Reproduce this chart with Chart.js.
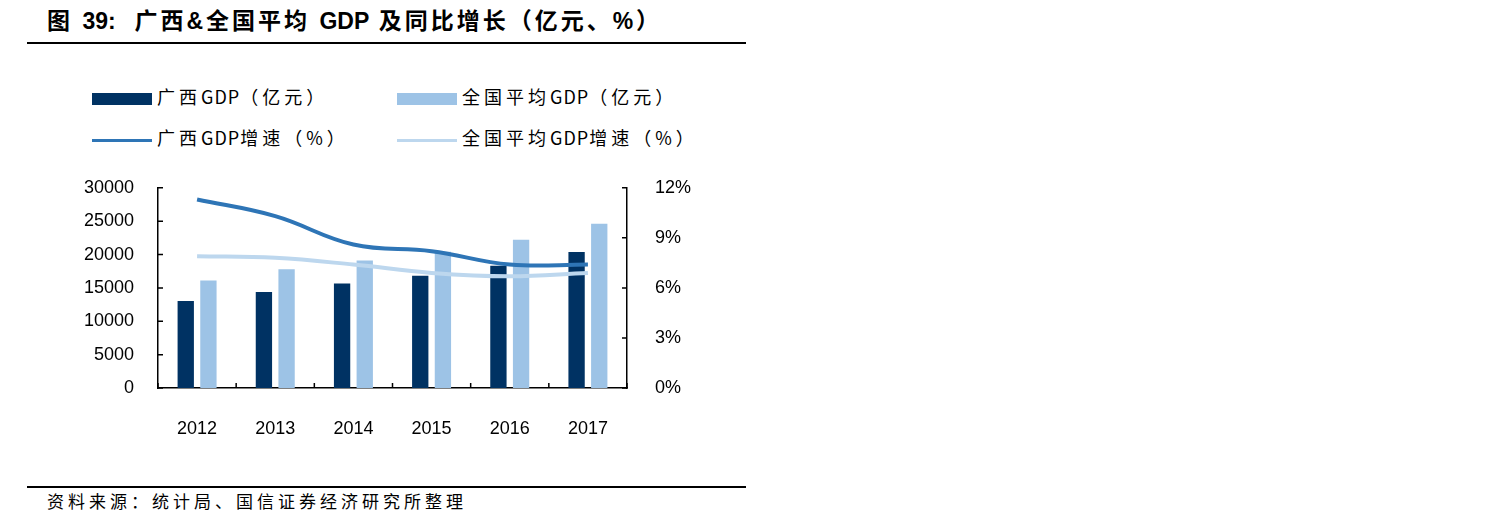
<!DOCTYPE html>
<html>
<head>
<meta charset="utf-8">
<script src="https://cdn.jsdelivr.net/npm/chart.js@4.4.0/dist/chart.umd.min.js"></script>
<style>
  body { margin: 0; background: #fff; width: 1508px; height: 511px; overflow: hidden; position: relative; }
  .title { position: absolute; left: 47px; top: 2px; font: bold 23px "Liberation Sans", "Noto Sans CJK SC", sans-serif; letter-spacing: 3px; color: #000; white-space: nowrap; }
  .title .lat { letter-spacing: 0; }
  .rule { position: absolute; left: 27px; width: 719px; height: 2px; background: #000; }
  .source { position: absolute; left: 47px; top: 488px; font: 17px "Noto Sans CJK SC", sans-serif; letter-spacing: 4px; color: #000; white-space: nowrap; }
  .legend { position: absolute; font: 18px "Noto Sans CJK SC", sans-serif; color: #000; letter-spacing: 4px; white-space: nowrap; }
  .legend .lat { letter-spacing: 1px; }
  .legend span.sw { display: inline-block; width: 60px; vertical-align: middle; margin-right: 5px; }
  #wrap { position: absolute; left: 0; top: 157px; width: 745px; height: 294px; }
</style>
</head>
<body>
<div class="title">图 <span class="lat">39:</span>&nbsp; 广西&amp;全国平均 <span class="lat">GDP</span> 及同比增长（亿元、%）</div>
<div class="rule" style="top:42px"></div>
<div id="legend"></div>
<div id="wrap"><canvas id="grafico"></canvas></div>
<div class="rule" style="top:486px"></div>
<div class="source">资料来源：统计局、国信证券经济研究所整理</div>
<script>
// Dados do gráfico
const anos = ['2012', '2013', '2014', '2015', '2016', '2017'];
const gdpGuangxi = [13035, 14378, 15673, 16803, 18318, 20396];
const gdpNacional = [16100, 17800, 19100, 20400, 22200, 24600];
const crescGuangxi = [11.3, 10.3, 8.6, 8.2, 7.4, 7.4];
const crescNacional = [7.9, 7.8, 7.4, 6.9, 6.7, 6.9];

const corEscuro = '#003263';
const corClaro = '#9dc3e6';
const corLinha = '#2e75b6';
const corLinhaClara = '#bdd7ee';

// legenda em HTML (2 x 2)
const itensLegenda = [
  { pre: '广西', post: '（亿元）', color: corEscuro, bar: true, x: 92, y: 83 },
  { pre: '全国平均', post: '（亿元）', color: corClaro, bar: true, x: 397, y: 83 },
  { pre: '广西', post: '增速（%）', color: corLinha, bar: false, x: 92, y: 124 },
  { pre: '全国平均', post: '增速（%）', color: corLinhaClara, bar: false, x: 397, y: 124 }
];
const leg = document.getElementById('legend');
itensLegenda.forEach(it => {
  const d = document.createElement('div');
  d.className = 'legend';
  d.style.left = it.x + 'px';
  d.style.top = it.y + 'px';
  const sw = document.createElement('span');
  sw.className = 'sw';
  sw.style.height = it.bar ? '12px' : '3px';
  sw.style.background = it.color;
  d.appendChild(sw);
  d.appendChild(document.createTextNode(it.pre));
  const g = document.createElement('span');
  g.className = 'lat';
  g.textContent = 'GDP';
  d.appendChild(g);
  d.appendChild(document.createTextNode(it.post));
  leg.appendChild(d);
});

// marcas de escala para dentro
const ticksDentro = {
  id: 'ticksDentro',
  afterDraw(chart) {
    const { ctx, chartArea, scales } = chart;
    ctx.save();
    ctx.strokeStyle = '#000';
    ctx.lineWidth = 1.5;
    ctx.beginPath();
    scales.y.ticks.forEach(t => {
      const py = scales.y.getPixelForValue(t.value);
      ctx.moveTo(chartArea.left, py); ctx.lineTo(chartArea.left + 5, py);
    });
    scales.y1.ticks.forEach(t => {
      const py = scales.y1.getPixelForValue(t.value);
      ctx.moveTo(chartArea.right, py); ctx.lineTo(chartArea.right - 5, py);
    });
    const w = (chartArea.right - chartArea.left) / anos.length;
    for (let i = 0; i <= anos.length; i++) {
      const px = chartArea.left + i * w;
      ctx.moveTo(px, chartArea.bottom); ctx.lineTo(px, chartArea.bottom - 5);
    }
    ctx.stroke();
    ctx.restore();
  }
};

const fonteEixo = { family: '"Liberation Sans", Arial, sans-serif', size: 18 };

const ctx = document.getElementById('grafico').getContext('2d');
const grafico = new Chart(ctx, {
  type: 'bar',
  data: {
    labels: anos,
    datasets: [
      {
        type: 'line', label: '广西GDP增速（%）', data: crescGuangxi, yAxisID: 'y1',
        borderColor: corLinha, borderWidth: 4, pointRadius: 0, tension: 0.4, order: 0
      },
      {
        type: 'line', label: '全国平均GDP增速（%）', data: crescNacional, yAxisID: 'y1',
        borderColor: corLinhaClara, borderWidth: 4, pointRadius: 0, tension: 0.4, order: 1
      },
      {
        label: '广西GDP（亿元）', data: gdpGuangxi, yAxisID: 'y',
        backgroundColor: corEscuro, categoryPercentage: 0.58, barPercentage: 0.72, order: 2
      },
      {
        label: '全国平均GDP（亿元）', data: gdpNacional, yAxisID: 'y',
        backgroundColor: corClaro, categoryPercentage: 0.58, barPercentage: 0.72, order: 3
      }
    ]
  },
  options: {
    responsive: true,
    maintainAspectRatio: false,
    animation: false,
    layout: { padding: { top: 0, left: 0, right: 0, bottom: 0 } },
    plugins: {
      legend: { display: false },
      tooltip: { enabled: false }
    },
    scales: {
      x: {
        grid: { display: false },
        border: { color: '#000', width: 1.5 },
        ticks: { color: '#000', font: fonteEixo, padding: 22 },
        afterFit(s) { s.height = 63; }
      },
      y: {
        position: 'left',
        min: 0, max: 30000,
        grid: { display: false },
        border: { color: '#000', width: 1.5 },
        ticks: { stepSize: 5000, color: '#000', font: fonteEixo, padding: 16, callback: v => String(v) },
        afterFit(s) { s.width = 158; }
      },
      y1: {
        position: 'right',
        min: 0, max: 12,
        grid: { display: false },
        border: { color: '#000', width: 1.5 },
        ticks: { stepSize: 3, color: '#000', font: fonteEixo, padding: 20, callback: v => v + '%' },
        afterFit(s) { s.width = 118; }
      }
    }
  },
  plugins: [ticksDentro]
});
</script>
</body>
</html>
